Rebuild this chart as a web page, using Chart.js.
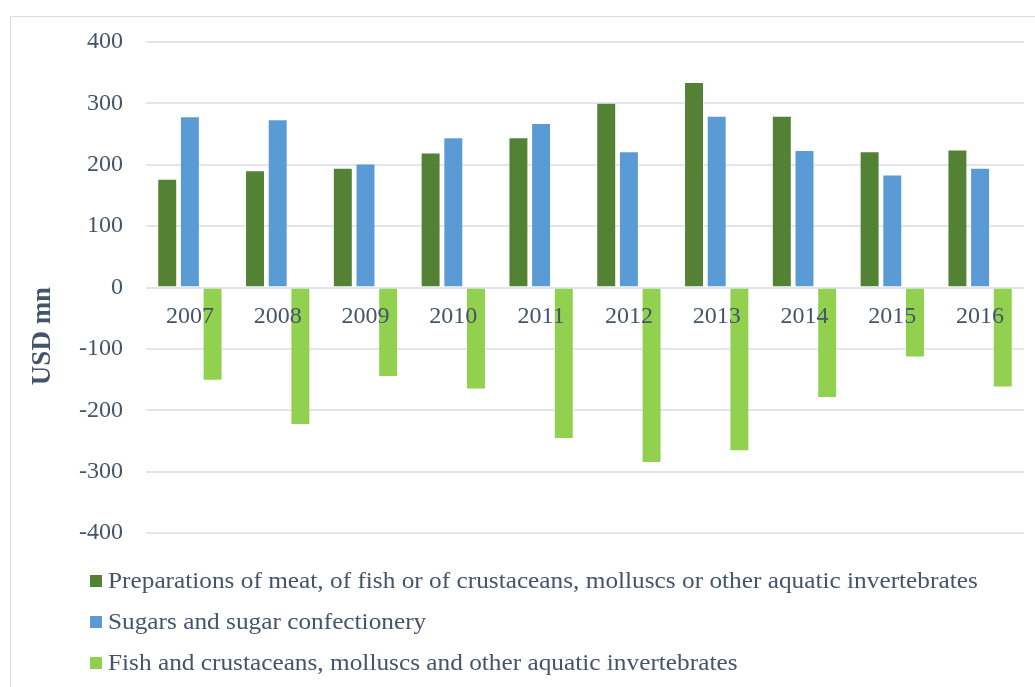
<!DOCTYPE html>
<html>
<head>
<meta charset="utf-8">
<script src="https://cdn.jsdelivr.net/npm/chart.js@4/dist/chart.umd.min.js"></script>
<style>
  html, body { margin: 0; padding: 0; background: #fff; overflow: hidden; }
  #wrap { position: relative; width: 1035px; height: 687px; }
  #frame { position: absolute; left: 10px; top: 16px; width: 1100px; height: 760px; border: 1.5px solid #D9DEE7; box-sizing: border-box; pointer-events: none; }
  #legend { position: absolute; left: 90px; top: 560px; font-family: "Liberation Serif", "Times New Roman", serif; font-size: 23px; color: #44546A; }
  #legend .row { display: flex; align-items: center; height: 41px; white-space: nowrap; }
  #legend .box { width: 12px; height: 12px; margin-right: 6px; flex: none; }
  #legend .txt { display: inline-block; transform: scaleX(1.1); transform-origin: left center; }
</style>
</head>
<body>
<div id="wrap">
  <canvas id="c" width="1035" height="687"></canvas>
  <div id="frame"></div>
  <div id="legend"></div>
</div>
<script>
const categories = ['2007','2008','2009','2010','2011','2012','2013','2014','2015','2016'];
const seriesNames = [
  'Preparations of meat, of fish or of crustaceans, molluscs or other aquatic invertebrates',
  'Sugars and sugar confectionery',
  'Fish and crustaceans, molluscs and other aquatic invertebrates'
];
const preparationsMeatFish = [177, 191, 195, 220, 245, 301, 335, 280, 222, 225];
const sugarsConfectionery = [279, 274, 202, 245, 268, 222, 280, 224, 184, 195];
const fishCrustaceans = [-152, -224, -146, -166, -247, -286, -267, -180, -114, -163];
const yTicks = [-400, -300, -200, -100, 0, 100, 200, 300, 400];
const seriesColors = ['#548235', '#5B9BD5', '#92D050'];
const yTitle = 'USD mn';

const textColor = '#44546A';
const fontFamily = '"Liberation Serif", "Times New Roman", serif';

const seriesValues = [preparationsMeatFish, sugarsConfectionery, fishCrustaceans];
const datasets = seriesNames.map((name, i) => ({
  label: name,
  data: seriesValues[i],
  backgroundColor: seriesColors[i],
  borderColor: 'rgba(255,255,255,0.35)',
  borderWidth: 1,
  categoryPercentage: 0.775,
  barPercentage: 0.88
}));

const yTitlePlugin = {
  id: 'yTitlePlugin',
  afterDraw(chart) {
    const ctx = chart.ctx;
    ctx.save();
    ctx.translate(43, 336);
    ctx.rotate(-Math.PI / 2);
    ctx.font = 'bold 27px ' + fontFamily;
    ctx.fillStyle = textColor;
    ctx.textAlign = 'center';
    ctx.textBaseline = 'middle';
    ctx.fillText(yTitle, 0, 0);
    ctx.restore();
  }
};

new Chart(document.getElementById('c'), {
  type: 'bar',
  data: { labels: categories, datasets },
  options: {
    responsive: false,
    animation: false,
    layout: { padding: { left: 0, right: 11, top: 42, bottom: 154 } },
    plugins: { legend: { display: false }, tooltip: { enabled: false } },
    scales: {
      x: {
        position: { y: 0 },
        grid: { display: false, drawTicks: false },
        border: { display: false },
        ticks: { z: 1, color: textColor, font: { family: fontFamily, size: 24 }, padding: 15, maxRotation: 0 }
      },
      y: {
        min: -400, max: 400,
        afterFit(scale) { scale.width = 146; },
        afterBuildTicks(scale) { scale.ticks = yTicks.map(v => ({ value: v })); },
        grid: { color: '#E1E5EC', lineWidth: 2, drawTicks: false },
        border: { display: false },
        ticks: { color: textColor, font: { family: fontFamily, size: 24 }, padding: 23 }
      }
    }
  },
  plugins: [yTitlePlugin]
});

const legend = document.getElementById('legend');
seriesNames.forEach((name, i) => {
  const row = document.createElement('div');
  row.className = 'row';
  const box = document.createElement('span');
  box.className = 'box';
  box.style.background = seriesColors[i];
  const txt = document.createElement('span');
  txt.className = 'txt';
  txt.textContent = name;
  row.appendChild(box);
  row.appendChild(txt);
  legend.appendChild(row);
});
</script>
</body>
</html>
